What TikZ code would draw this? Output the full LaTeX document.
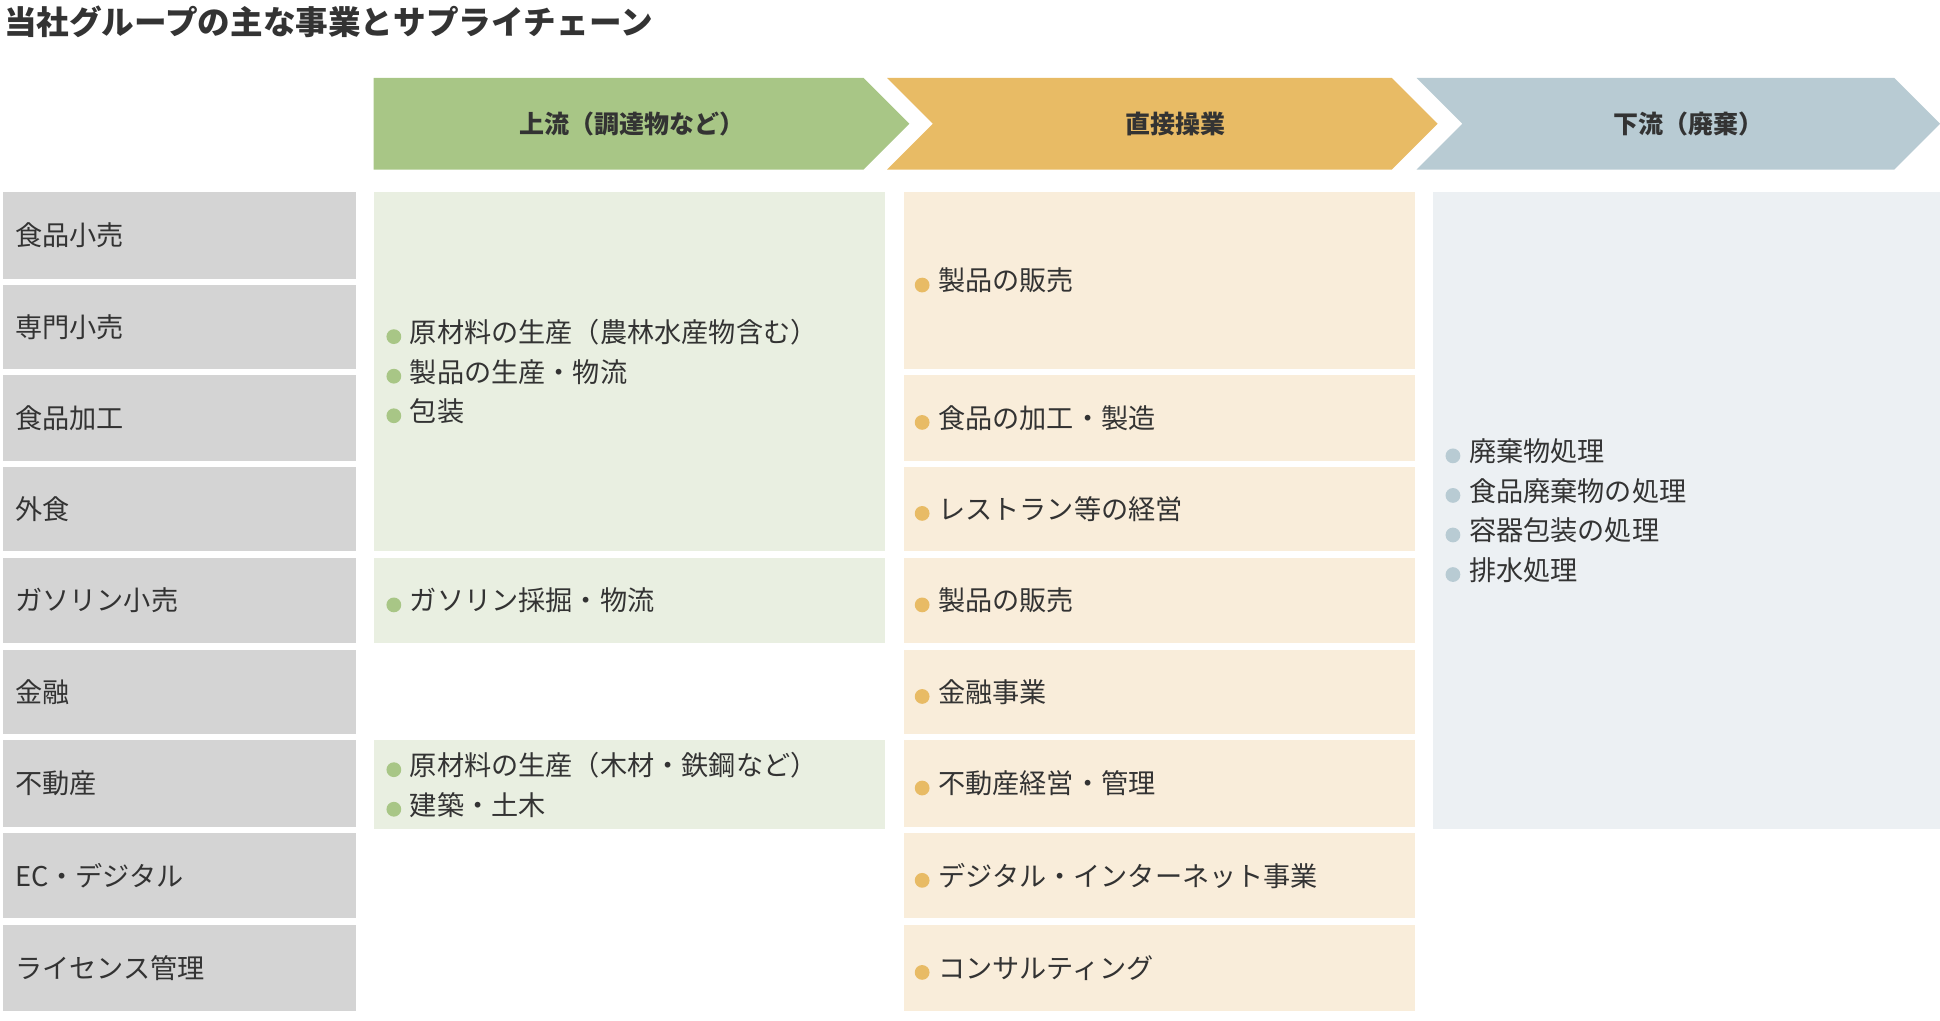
\documentclass[tikz,border=0pt]{standalone}
\usepackage{fontspec}
\setmainfont{Noto Sans CJK JP}
\usetikzlibrary{positioning}
\definecolor{upcolor}{HTML}{A8C686}
\definecolor{opcolor}{HTML}{E8BB65}
\definecolor{downcolor}{HTML}{B8CBD3}
\definecolor{catfill}{HTML}{D4D4D4}
\definecolor{upfill}{HTML}{E9EFE1}
\definecolor{opfill}{HTML}{F9EDDA}
\definecolor{downfill}{HTML}{ECF0F3}
\definecolor{textcolor}{HTML}{333333}
\tikzstyle{cell} = [rectangle, anchor=north west, inner sep=0pt, text=textcolor, font=\fontsize{12.5}{18}\selectfont]
\tikzstyle{cat} = [cell, fill=catfill, minimum width=285*0.02cm]
\tikzstyle{upbox} = [cell, fill=upfill, minimum width=413*0.02cm]
\tikzstyle{opbox} = [cell, fill=opfill, minimum width=413*0.02cm]
\tikzstyle{downbox} = [cell, fill=downfill, minimum width=410*0.02cm]
\tikzstyle{label} = [anchor=west, inner sep=0pt, text=textcolor, align=left, font=\fontsize{12.5}{18.2}\selectfont]
\tikzstyle{head} = [text=textcolor, font=\fontsize{11.5}{14}\selectfont\bfseries]
\newcommand{\bul}[1]{\tikz[baseline=-0.4ex]\fill[#1] (0,0) circle (3.4pt);\hspace{4pt}}
\begin{document}
\begin{tikzpicture}[x=0.02cm, y=-0.02cm]
\useasboundingbox (0,0) rectangle (1568,825);

% Titre
\node (title) [anchor=west, inner sep=0pt, text=textcolor, font=\fontsize{15}{18}\selectfont\bfseries] at (3,18) {当社グループの主な事業とサプライチェーン};

% En-tetes
\fill[upcolor] (302,63) -- (698,63) -- (735,100) -- (698,137) -- (302,137) -- cycle;
\fill[opcolor] (717,63) -- (1125,63) -- (1162,100) -- (1125,137) -- (717,137) -- (754,100) -- cycle;
\fill[downcolor] (1145,63) -- (1531,63) -- (1568,100) -- (1531,137) -- (1145,137) -- (1182,100) -- cycle;
\node (hup) [head] at (511,100) {上流（調達物など）};
\node (hop) [head] at (950,100) {直接操業};
\node (hdown) [head] at (1365,100) {下流（廃棄）};

% Categories
\node (c1) [cat, minimum height=70*0.02cm] at (2,155) {};
\node (c2) [cat, minimum height=68*0.02cm] at (2,230) {};
\node (c3) [cat, minimum height=69*0.02cm] at (2,303) {};
\node (c4) [cat, minimum height=68*0.02cm] at (2,377) {};
\node (c5) [cat, minimum height=68*0.02cm] at (2,451) {};
\node (c6) [cat, minimum height=68*0.02cm] at (2,525) {};
\node (c7) [cat, minimum height=70*0.02cm] at (2,598) {};
\node (c8) [cat, minimum height=69*0.02cm] at (2,673) {};
\node (c9) [cat, minimum height=70*0.02cm] at (2,747) {};
\node [label] at ([xshift=10*0.02cm]c1.west) {食品小売};
\node [label] at ([xshift=10*0.02cm]c2.west) {専門小売};
\node [label] at ([xshift=10*0.02cm]c3.west) {食品加工};
\node [label] at ([xshift=10*0.02cm]c4.west) {外食};
\node [label] at ([xshift=10*0.02cm]c5.west) {ガソリン小売};
\node [label] at ([xshift=10*0.02cm]c6.west) {金融};
\node [label] at ([xshift=10*0.02cm]c7.west) {不動産};
\node [label] at ([xshift=10*0.02cm]c8.west) {EC・デジタル};
\node [label] at ([xshift=10*0.02cm]c9.west) {ライセンス管理};

% Amont
\node (u1) [upbox, minimum height=290*0.02cm] at (302,155) {};
\node (u2) [upbox, minimum height=68*0.02cm] at (302,451) {};
\node (u3) [upbox, minimum height=72*0.02cm] at (302,598) {};
\node [label] at ([xshift=10*0.02cm]u1.west) {\bul{upcolor}原材料の生産（農林水産物含む）\\\bul{upcolor}製品の生産・物流\\\bul{upcolor}包装};
\node [label] at ([xshift=10*0.02cm]u2.west) {\bul{upcolor}ガソリン採掘・物流};
\node [label] at ([xshift=10*0.02cm]u3.west) {\bul{upcolor}原材料の生産（木材・鉄鋼など）\\\bul{upcolor}建築・土木};

% Operations directes
\node (o1) [opbox, minimum height=143*0.02cm] at (730,155) {};
\node (o2) [opbox, minimum height=69*0.02cm] at (730,303) {};
\node (o3) [opbox, minimum height=68*0.02cm] at (730,377) {};
\node (o4) [opbox, minimum height=68*0.02cm] at (730,451) {};
\node (o5) [opbox, minimum height=68*0.02cm] at (730,525) {};
\node (o6) [opbox, minimum height=70*0.02cm] at (730,598) {};
\node (o7) [opbox, minimum height=69*0.02cm] at (730,673) {};
\node (o8) [opbox, minimum height=70*0.02cm] at (730,747) {};
\node [label] at ([xshift=9*0.02cm]o1.west) {\bul{opcolor}製品の販売};
\node [label] at ([xshift=9*0.02cm]o2.west) {\bul{opcolor}食品の加工・製造};
\node [label] at ([xshift=9*0.02cm]o3.west) {\bul{opcolor}レストラン等の経営};
\node [label] at ([xshift=9*0.02cm]o4.west) {\bul{opcolor}製品の販売};
\node [label] at ([xshift=9*0.02cm]o5.west) {\bul{opcolor}金融事業};
\node [label] at ([xshift=9*0.02cm]o6.west) {\bul{opcolor}不動産経営・管理};
\node [label] at ([xshift=9*0.02cm]o7.west) {\bul{opcolor}デジタル・インターネット事業};
\node [label] at ([xshift=9*0.02cm]o8.west) {\bul{opcolor}コンサルティング};

% Aval
\node (d1) [downbox, minimum height=515*0.02cm] at (1158,155) {};
\node [label] at ([xshift=10*0.02cm]d1.west) {\bul{downcolor}廃棄物処理\\\bul{downcolor}食品廃棄物の処理\\\bul{downcolor}容器包装の処理\\\bul{downcolor}排水処理};

\end{tikzpicture}
\end{document}
